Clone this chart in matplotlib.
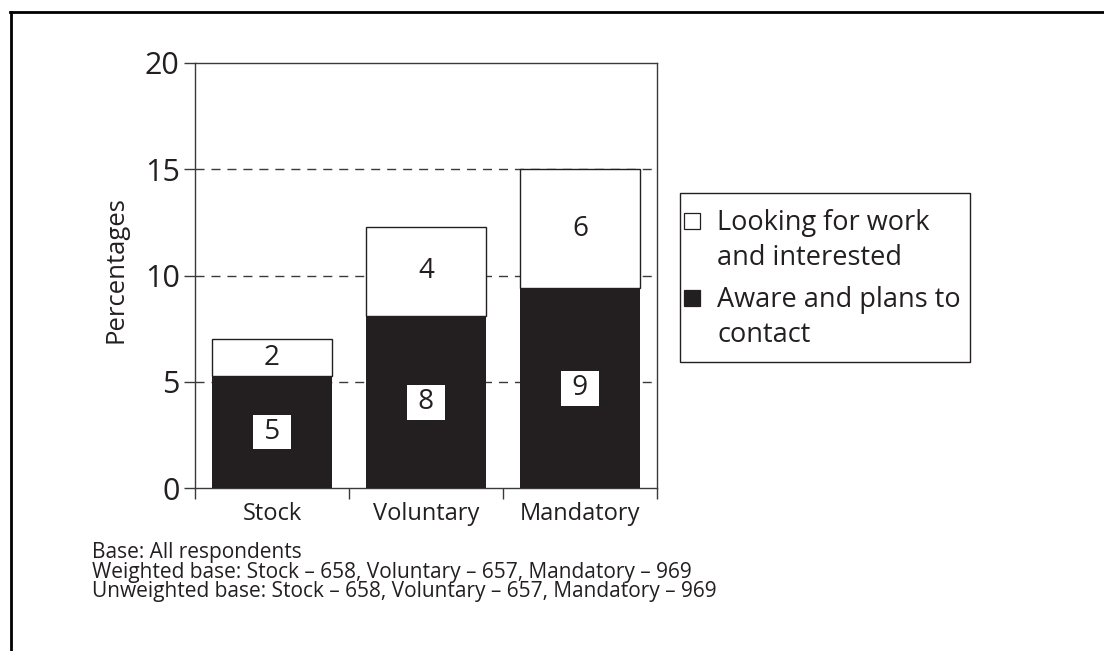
import matplotlib
matplotlib.use("Agg")
import matplotlib.pyplot as plt
from matplotlib.lines import Line2D
from matplotlib.patches import Rectangle
import numpy as np

# Share of respondents (%), per group
groups = ["Stock", "Voluntary", "Mandatory"]
aware_plans = [5.3, 8.1, 9.4]        # Aware and plans to contact
looking_work = [1.7, 4.2, 5.6]       # Looking for work and interested
series_names = [["Looking for work", "and interested"],
                ["Aware and plans to", "contact"]]

y_ticks = [0, 5, 10, 15, 20]
notes = ["Base: All respondents",
         "Weighted base: Stock \u2013 658, Voluntary \u2013 657, Mandatory \u2013 969",
         "Unweighted base: Stock \u2013 658, Voluntary \u2013 657, Mandatory \u2013 969"]

dark = "#231f20"
rule = "#3a3a3a"
plt.rcParams["font.family"] = ["Open Sans", "DejaVu Sans"]

W, H = 1104, 651
fig = plt.figure(figsize=(W / 100, H / 100), dpi=100)
ax = fig.add_axes([195 / W, 1 - 488.3 / H, 462 / W, 425.3 / H])


def fx(px):
    return px / W


def fy(py):
    return 1 - py / H


x = np.arange(len(groups))
width = 0.78
ax.bar(x, aware_plans, width, color=dark, edgecolor=dark, linewidth=0, zorder=3)
ax.bar(x, looking_work, width, bottom=aware_plans, color="white",
       edgecolor=dark, linewidth=1.0, zorder=3)

# value labels, centred in each segment
for xi, a, l in zip(x, aware_plans, looking_work):
    ax.text(xi, a / 2, " %d " % round(a), ha="center", va="center", fontsize=20,
            color=dark, zorder=5,
            bbox=dict(boxstyle="square,pad=0.12", facecolor="white", edgecolor="none"))
    ax.text(xi, a + l / 2, "%d" % round(l), ha="center", va="center", fontsize=20,
            color=dark, zorder=5)

# dashed guides
for yv in [5, 10, 15]:
    ax.axhline(yv, color=rule, linewidth=1.0, linestyle=(0, (6.5, 5)), zorder=1)

ax.set_ylim(0, 20)
ax.set_xlim(-0.5, 2.5)
ax.set_yticks(y_ticks)
ax.set_yticklabels([str(t) for t in y_ticks], fontsize=22, color=dark)
ax.set_xticks(x)
ax.set_xticklabels(groups, fontsize=17, color=dark)
ax.set_xticks([-0.5, 0.5, 1.5, 2.5], minor=True)
ax.tick_params(axis="x", which="major", length=0, pad=10)
ax.tick_params(axis="x", which="minor", length=8, width=1.0, color=rule, direction="out")
ax.tick_params(axis="y", length=8, width=1.0, color=rule, direction="out", pad=3)
for s in ax.spines.values():
    s.set_color(rule)
    s.set_linewidth(1.0)
ax.set_ylabel("Percentages", fontsize=18.5, color=dark)
ax.yaxis.set_label_coords(-0.143, 0.515)

# key box
fig.add_artist(Rectangle((fx(680), fy(362)), fx(970) - fx(680), fy(193) - fy(362),
                         transform=fig.transFigure, facecolor="white",
                         edgecolor=dark, linewidth=1.0))
key_rows = [221, 298]
key_fill = ["white", dark]
for r1, lines, fc in zip(key_rows, series_names, key_fill):
    fig.add_artist(Rectangle((fx(684), fy(r1 + 8)), fx(16), 16 / H,
                             transform=fig.transFigure, facecolor=fc,
                             edgecolor=dark, linewidth=0.9))
    # baseline of the second line of each label
    fig.text(fx(717), fy(r1 + 44), "\n".join(lines), fontsize=19.5, color=dark,
             ha="left", va="baseline", linespacing=1.35)

# footnotes
fig.text(fx(92), fy(542), "\n".join(notes), fontsize=15, color=dark,
         ha="left", va="top", linespacing=0.92)

# page frame: top and left rules
fig.add_artist(Line2D([fx(10), 1.0], [fy(12), fy(12)],
                      transform=fig.transFigure, color="black", linewidth=2))
fig.add_artist(Line2D([fx(11), fx(11)], [0, fy(12)],
                      transform=fig.transFigure, color="black", linewidth=2))

fig.savefig("out.png", dpi=100)
